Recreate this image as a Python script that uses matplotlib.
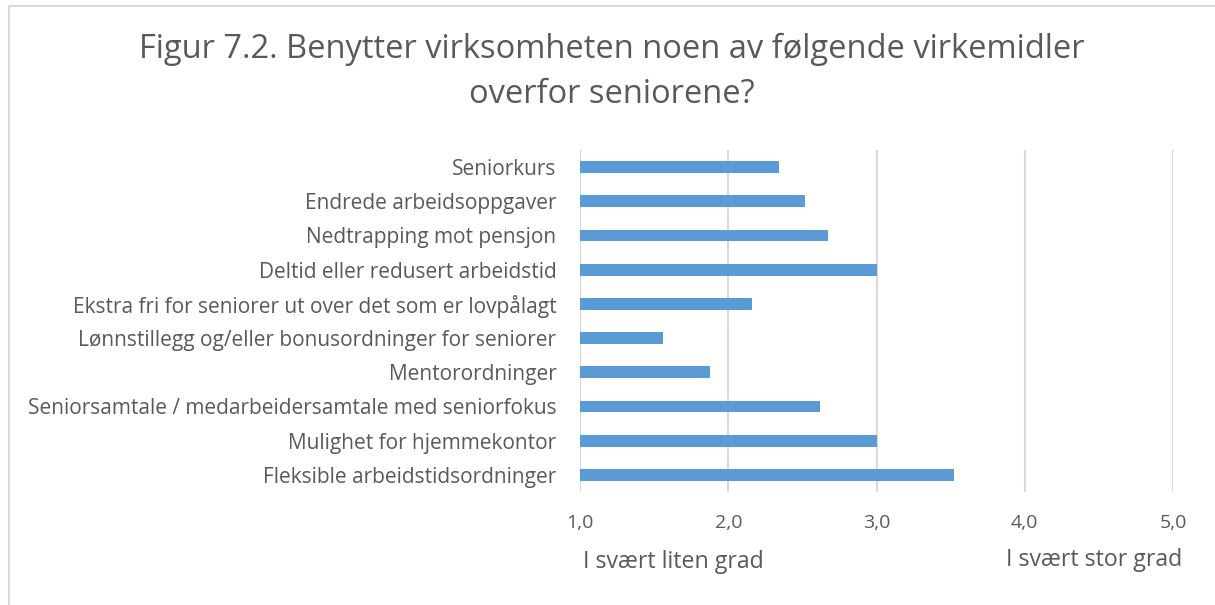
import matplotlib
matplotlib.use("Agg")
import matplotlib.pyplot as plt
from matplotlib.lines import Line2D

categories = [
    "Seniorkurs",
    "Endrede arbeidsoppgaver",
    "Nedtrapping mot pensjon",
    "Deltid eller redusert arbeidstid",
    "Ekstra fri for seniorer ut over det som er lovpålagt",
    "Lønnstillegg og/eller bonusordninger for seniorer",
    "Mentorordninger",
    "Seniorsamtale / medarbeidersamtale med seniorfokus",
    "Mulighet for hjemmekontor",
    "Fleksible arbeidstidsordninger",
]
values = [2.34, 2.52, 2.67, 3.00, 2.16, 1.56, 1.88, 2.62, 3.00, 3.52]
xticks = [1, 2, 3, 4, 5]
xtick_labels = ["1,0", "2,0", "3,0", "4,0", "5,0"]
title = "Figur 7.2. Benytter virksomheten noen av følgende virkemidler\noverfor seniorene?"
low_label = "I svært liten grad"
high_label = "I svært stor grad"

plt.rcParams['font.family'] = ['Open Sans', 'DejaVu Sans']
text_color = "#595959"
bar_color = "#5B9BD5"
grid_color = "#D9D9D9"

fig = plt.figure(figsize=(12.15, 6.05), dpi=100)
bx, by = 8.5 / 1215, 1 - 6 / 605
fig.lines.append(Line2D([bx, bx], [0, by], transform=fig.transFigure, color="#D9D9D9", linewidth=1.5))
fig.lines.append(Line2D([bx, 1], [by, by], transform=fig.transFigure, color="#D9D9D9", linewidth=1.5))

ax = fig.add_axes([580/1215, 1 - 492/605, (1173-580)/1215, (492-150)/605])
ypos = list(range(len(categories)))
ax.barh(ypos, [v - 1 for v in values], left=1, height=0.35, color=bar_color, zorder=3)
ax.set_ylim(len(categories) - 0.5, -0.5)
ax.set_xlim(1, 5)
ax.set_yticks(ypos)
ax.set_yticklabels(categories, fontsize=15, color=text_color)
ax.set_xticks(xticks)
ax.set_xticklabels(xtick_labels, fontsize=14, color=text_color)
ax.tick_params(axis='both', length=0)
ax.tick_params(axis='y', pad=17)
ax.tick_params(axis='x', pad=16)
for s in ax.spines.values():
    s.set_visible(False)
ax.grid(axis='x', color=grid_color, linewidth=1.5, zorder=0)
ax.set_axisbelow(True)

fig.text(612/1215, 1 - 72/605, title, ha='center', va='center', fontsize=23.5,
         color=text_color, linespacing=1.5)
fig.text(583/1215, 1 - 562/605, low_label, ha='left', va='center', fontsize=16.7, color=text_color)
fig.text(1182/1215, 1 - 560/605, high_label, ha='right', va='center', fontsize=16.7, color=text_color)

fig.savefig("out.png", dpi=100)
